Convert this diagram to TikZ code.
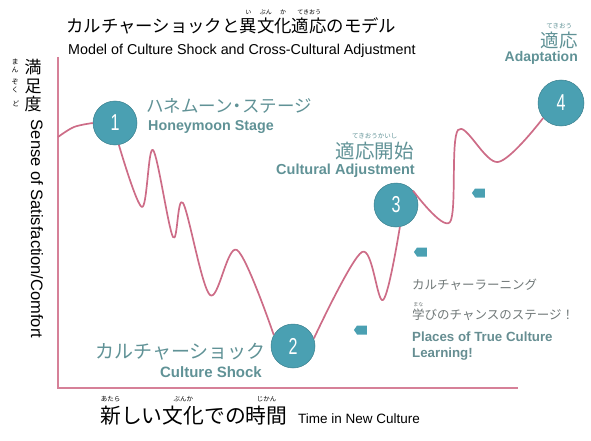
\documentclass[tikz,border=0pt]{standalone}
\usepackage{fontspec}
\setmainfont{Liberation Sans}
\newfontfamily\jp{Noto Sans CJK JP}
\usetikzlibrary{shapes.arrows}

\definecolor{curvepink}{RGB}{205,108,135}
\definecolor{axispink}{RGB}{214,128,152}
\definecolor{stageteal}{RGB}{74,160,178}
\definecolor{labelteal}{RGB}{96,146,150}
\definecolor{labelgray}{RGB}{112,120,120}

% ruby: small reading centred over the base text
\newcommand{\furi}[3][6]{\leavevmode\vbox{\halign{\hfil##\hfil\cr
 {\fontsize{#1}{#1}\selectfont #3}\cr\noalign{\kern0.5pt}#2\cr}}}

\begin{document}
\begin{tikzpicture}[x=1pt,y=-1pt]
\useasboundingbox (0,0) rectangle (591,441);

\coordinate (YTop) at (58,57);
\coordinate (O) at (58,388);
\coordinate (XEnd) at (518,388);
\coordinate (C0) at (58,137);

\tikzset{AxisStyle/.style = {axispink, line width=1.8pt} }
\draw[AxisStyle] (YTop) -- (O) -- (XEnd);

\tikzset{StageStyle/.style = {
 shape = circle,
 fill = stageteal,
 draw = stageteal!80!black,
 line width = 0.5pt,
 text = white,
 inner sep = 0pt,
 minimum size = 44pt,
 font = \fontsize{23}{23}\selectfont} }

\node[StageStyle] (S1) at (115,123) {\scalebox{0.7}[1]{1}};
\node[StageStyle] (S2) at (293,346) {\scalebox{0.7}[1]{2}};
\node[StageStyle] (S3) at (396,205) {\scalebox{0.7}[1]{3}};
\node[StageStyle, minimum size=46pt] (S4) at (561,103) {\scalebox{0.7}[1]{4}};

\tikzset{CurveStyle/.style = {curvepink, line width=1.7pt, line join=round} }

\draw[CurveStyle] plot[smooth, tension=0.55] coordinates {
 (C0) (74,127) (S1.west) };
\draw[CurveStyle] plot[smooth, tension=0.55] coordinates {
 (S1.-80) (142,207) (153,150) (173,237) (183,203) (210,295) (237,250) (S2.150) };
\draw[CurveStyle] plot[smooth, tension=0.55] coordinates {
 (S2.20) (362,252) (383,300) (S3.-80) };
\draw[CurveStyle] plot[smooth, tension=0.55] coordinates {
 (S3.40) (450,222) (458,130) (498,162) (S4.220) };

\tikzset{ArrowStyle/.style = {
 single arrow, shape border rotate=180,
 fill = stageteal, inner sep = 0pt,
 minimum height = 13pt, minimum width = 9pt,
 single arrow head extend = 0pt, single arrow tip angle = 110} }

\node[ArrowStyle] (A1) at (362,330) {};
\node[ArrowStyle] (A2) at (422,252) {};
\node[ArrowStyle] (A3) at (480,193) {};

% title
\node[anchor=west, inner sep=0pt, font=\jp\fontsize{17.4}{17.4}\selectfont] (TitleJ) at (66,22)
 {カルチャーショックと\furi{異}{い}\furi{文}{ぶん}\furi{化}{か}\furi{適応}{てきおう}のモデル};
\node[anchor=west, inner sep=0pt, font=\fontsize{14.3}{14.3}\selectfont] (TitleE) at (68,51)
 {Model of Culture Shock and Cross-Cultural Adjustment};

% y axis label
\node[inner sep=0pt, align=center, font=\jp\fontsize{17}{18.5}\selectfont] (YJ) at (33,86) {満\\足\\度};
\node[inner sep=0pt, align=center, font=\jp\fontsize{7}{8.5}\selectfont] (YR1) at (15,66) {ま\\ん};
\node[inner sep=0pt, align=center, font=\jp\fontsize{7}{8.5}\selectfont] (YR2) at (15,86) {ぞ\\く};
\node[inner sep=0pt, font=\jp\fontsize{7}{8.5}\selectfont] (YR3) at (16,104) {ど};
\node[inner sep=0pt, rotate=-90, font=\fontsize{16.5}{16.5}\selectfont] (YE) at (37,229)
 {Sense of Satisfaction/Comfort};

% x axis label
\node[anchor=base west, inner sep=0pt, font=\jp\fontsize{20.8}{20.8}\selectfont] (XJ) at (100,423)
 {\furi[6.5]{新}{あたら}しい\furi[6.5]{文化}{ぶんか}での\furi[6.5]{時間}{じかん}};
\node[anchor=base west, inner sep=0pt, font=\fontsize{13.5}{13.5}\selectfont] (XE) at (298,423)
 {Time in New Culture};

% stage labels
\node[anchor=west, inner sep=0pt, text=labelteal, font=\jp\fontsize{17.5}{17.5}\selectfont] (L1J) at (146,106)
 {ハネムーン\kern-4pt・\kern-4pt ステージ};
\node[anchor=west, inner sep=0pt, text=labelteal, font=\bfseries\fontsize{14.3}{14.3}\selectfont] (L1E) at (148,127)
 {Honeymoon Stage};

\node[anchor=east, inner sep=0pt, text=labelteal, font=\jp\fontsize{19}{19}\selectfont] (L2J) at (266,352)
 {カルチャーショック};
\node[anchor=east, inner sep=0pt, text=labelteal, font=\bfseries\fontsize{15}{15}\selectfont] (L2E) at (262,372)
 {Culture Shock};

\node[anchor=south east, inner sep=0pt, text=labelteal, font=\jp\fontsize{19.5}{19.5}\selectfont] (L3J) at (414,160)
 {\furi[6.5]{適応開始}{てきおうかいし}};
\node[anchor=east, inner sep=0pt, text=labelteal, font=\bfseries\fontsize{14.5}{14.5}\selectfont] (L3E) at (415,171)
 {Cultural Adjustment};

\node[anchor=south east, inner sep=0pt, text=labelteal, font=\jp\fontsize{18.5}{18.5}\selectfont] (L4J) at (578,49)
 {\furi[6.5]{適応}{てきおう}};
\node[anchor=east, inner sep=0pt, text=labelteal, font=\bfseries\fontsize{14}{14}\selectfont] (L4E) at (578,58)
 {Adaptation};

% learning note
\node[anchor=west, inner sep=0pt, text=labelgray, font=\jp\fontsize{12.5}{12.5}\selectfont] (NJ1) at (412,285)
 {カルチャーラーニング};
\node[anchor=south west, inner sep=0pt, text=labelgray, font=\jp\fontsize{12.5}{12.5}\selectfont] (NJ2) at (412,321)
 {\furi[5]{学}{まな}びのチャンスのステージ！};
\node[anchor=north west, inner sep=0pt, align=left, text=labelteal!80!gray, font=\bfseries\fontsize{13.3}{16}\selectfont] (NE) at (412,332)
 {Places of True Culture\\Learning!};

\end{tikzpicture}
\end{document}
